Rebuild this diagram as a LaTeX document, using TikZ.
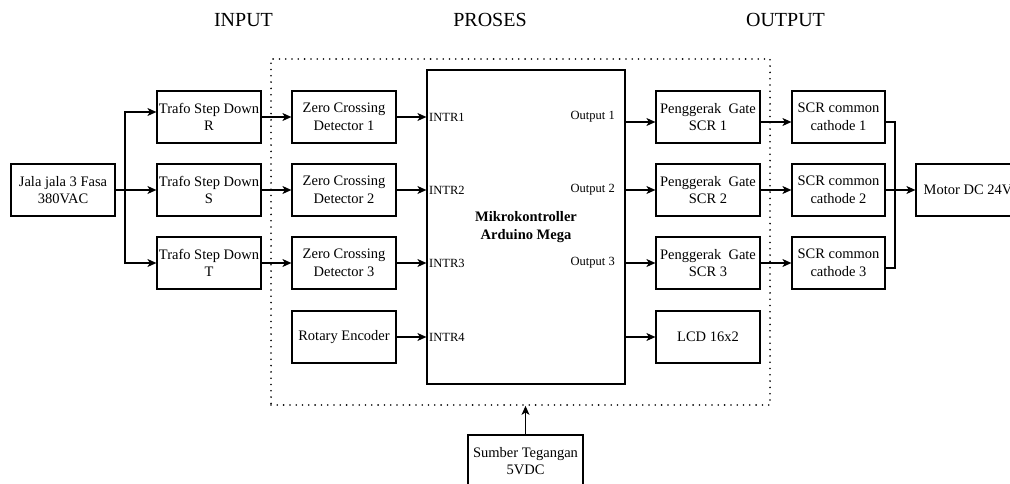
\documentclass[tikz,border=0pt]{standalone}
\usepackage{fontspec}
\setmainfont{Liberation Serif}
\usetikzlibrary{arrows.meta}
\tikzset{
  blk/.style={draw, line width=1.2pt, minimum width=104pt, minimum height=52pt, inner sep=0pt, align=center, font=\fontsize{14.5}{17.5}\selectfont},
  lbl/.style={inner sep=0pt, font=\fontsize{12.5}{15}\selectfont},
  hdr/.style={inner sep=0pt, font=\fontsize{20}{24}\selectfont},
  arr/.style={line width=1.2pt, -{Stealth[length=9pt,width=8pt,inset=2.5pt]}},
  wire/.style={line width=1.2pt},
  dotbox/.style={draw, line width=1.8pt, line cap=round, dash pattern=on 0pt off 6.3pt, minimum width=499pt, minimum height=346pt, inner sep=0pt}
}
\begin{document}
\begin{tikzpicture}[x=1pt,y=-1pt]
\useasboundingbox (0,0) rectangle (1010,484);
% headers
\node[hdr] (hin) at (243.5,20) {INPUT};
\node[hdr] (hpr) at (490,20) {PROSES};
\node[hdr] (hout) at (785.5,20) {OUTPUT};
% process dotted frame
\node[dotbox] (proc) at (520.5,232) {};
% blocks
\node[blk] (jala) at (63,190) {Jala jala 3 Fasa\\380VAC};
\node[blk] (trR) at (209,117) {Trafo Step Down\\R};
\node[blk] (trS) at (209,190) {Trafo Step Down\\S};
\node[blk] (trT) at (209,263) {Trafo Step Down\\T};
\node[blk] (z1) at (344,117) {Zero Crossing\\Detector 1};
\node[blk] (z2) at (344,190) {Zero Crossing\\Detector 2};
\node[blk] (z3) at (344,263) {Zero Crossing\\Detector 3};
\node[blk] (rot) at (344,337) {Rotary Encoder};
\node[blk, minimum width=198pt, minimum height=314pt, font=\fontsize{14.5}{17.5}\selectfont\bfseries] (mikro) at (526,227) {Mikrokontroller\\Arduino Mega};
\node[blk] (pg1) at (708,117) {Penggerak\ \ Gate\\SCR 1};
\node[blk] (pg2) at (708,190) {Penggerak\ \ Gate\\SCR 2};
\node[blk] (pg3) at (708,263) {Penggerak\ \ Gate\\SCR 3};
\node[blk] (lcd) at (708,337) {LCD 16x2};
\node[blk, minimum width=93pt] (scr1) at (838.5,117) {SCR common\\cathode 1};
\node[blk, minimum width=93pt] (scr2) at (838.5,190) {SCR common\\cathode 2};
\node[blk, minimum width=93pt] (scr3) at (838.5,263) {SCR common\\cathode 3};
\node[blk] (motor) at (968,190) {Motor DC 24V};
\node[blk, minimum width=115pt] (sumber) at (525.5,461) {Sumber Tegangan\\5VDC};
% pin labels
\node[lbl, anchor=west] (i1) at (429,117) {INTR1};
\node[lbl, anchor=west] (i2) at (429,190) {INTR2};
\node[lbl, anchor=west] (i3) at (429,263) {INTR3};
\node[lbl, anchor=west] (i4) at (429,337) {INTR4};
\node[lbl, anchor=east] (o1) at (615,117) {Output 1};
\node[lbl, anchor=east] (o2) at (615,190) {Output 2};
\node[lbl, anchor=east] (o3) at (615,263) {Output 3};
% input branch
\coordinate (b) at (125,190);
\draw[wire] (jala.east) -- (b);
\draw[arr] (b) |- ([yshift=5pt]trR.west);
\draw[arr] (b) -- (trS.west);
\draw[arr] (b) |- (trT.west);
% trafo to zcd
\draw[arr] (trR.east) -- (z1.west);
\draw[arr] (trS.east) -- (z2.west);
\draw[arr] (trT.east) -- (z3.west);
% zcd to mikro
\draw[arr] (z1.east) -- (z1.east -| mikro.west);
\draw[arr] (z2.east) -- (z2.east -| mikro.west);
\draw[arr] (z3.east) -- (z3.east -| mikro.west);
\draw[arr] (rot.east) -- (rot.east -| mikro.west);
% mikro to outputs
\draw[arr] ([yshift=-5pt]pg1.west -| mikro.east) -- ([yshift=-5pt]pg1.west);
\draw[arr] (pg2.west -| mikro.east) -- (pg2.west);
\draw[arr] (pg3.west -| mikro.east) -- (pg3.west);
\draw[arr] (lcd.west -| mikro.east) -- (lcd.west);
% gate drivers to SCR
\draw[arr] ([yshift=-5pt]pg1.east) -- ([yshift=-5pt]scr1.west);
\draw[arr] (pg2.east) -- (scr2.west);
\draw[arr] (pg3.east) -- (scr3.west);
% merge to motor
\coordinate (m) at (895,190);
\draw[wire] ([yshift=-5pt]scr1.east) -| (m);
\draw[wire] ([yshift=-5pt]scr3.east) -| (m);
\draw[wire] (scr2.east) -- (m);
\draw[arr] (m) -- (motor.west);
% supply
\draw[arr] (sumber.north) -- (sumber.north |- proc.south);
\end{tikzpicture}
\end{document}
